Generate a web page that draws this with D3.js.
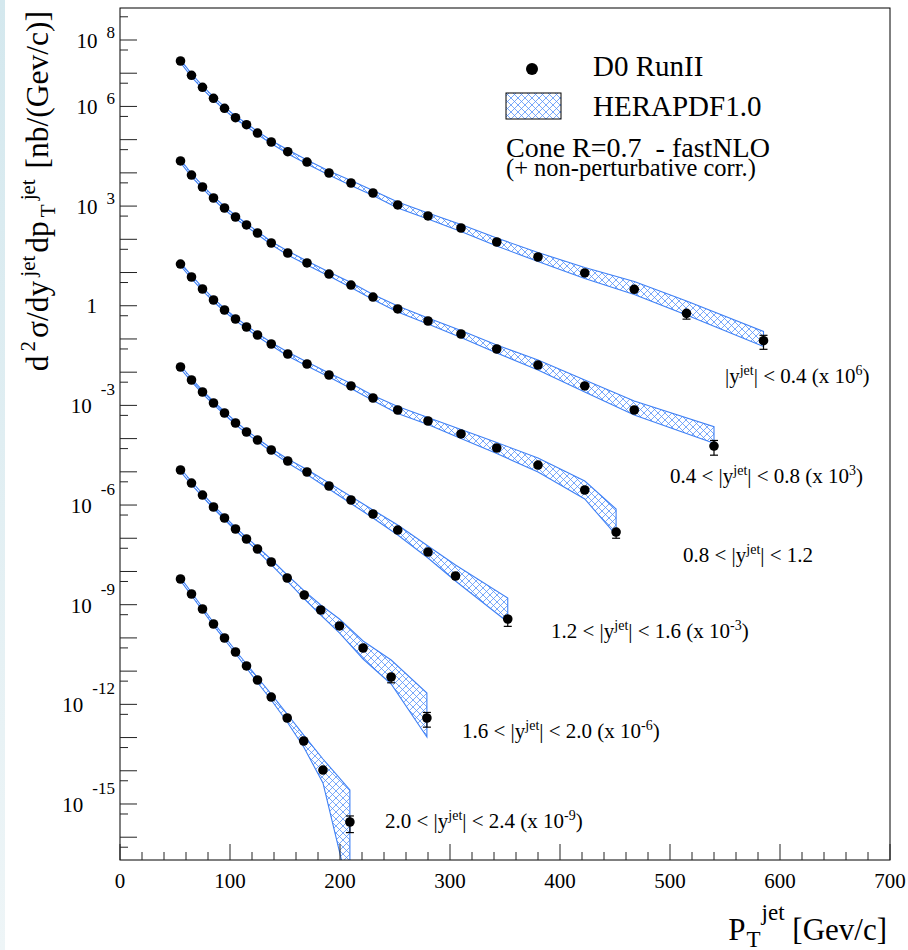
<!DOCTYPE html>
<html><head><meta charset="utf-8">
<script src="https://cdn.jsdelivr.net/npm/d3@7"></script>
<style>
body{margin:0;background:#fff}
svg{display:block}
text{font-family:"Liberation Serif","Times New Roman",Times,serif;fill:#000;white-space:pre}
</style>
</head><body>
<svg id="c" width="908" height="950"></svg>
<script>
// ---------------- DATA (values as plotted, scale factors already applied) ----------------
const ptS1 = [55,65,75,85,95,105,115,125,137.5,152.5,170,190,210,230,252.5,280,310,342.5,380,422.5,467.5,515,585];
const dataS1 = [2.33e7,8.65e6,3.77e6,1.76e6,8.79e5,4.58e5,2.82e5,1.58e5,8.5e4,4.34e4,2.12e4,9.9e3,4.95e3,2.48e3,1.08e3,504,219,83,29.3,9.7,3.13,0.59,0.0887];
const errS1 = [6,5,5,5,5,5,5,5,5,5,6,6,6,7,7,8,9,10,11,12,15,33,45];
const thLoS1 = [2.10e7,7.79e6,3.40e6,1.59e6,7.92e5,4.13e5,2.54e5,1.42e5,7.66e4,3.78e4,1.85e4,8.62e3,4.16e3,2.09e3,877,409,172,62.9,21.4,6.63,2.18,0.526,0.0593];
const thHiS1 = [2.59e7,9.60e6,4.18e6,1.95e6,9.76e5,5.08e5,3.13e5,1.75e5,9.44e4,4.99e4,2.44e4,1.14e4,5.89e3,2.95e3,1.33e3,620,279,109,40.0,14.2,5.37,1.39,0.168];

const ptS2 = [55,65,75,85,95,105,115,125,137.5,152.5,170,190,210,230,252.5,280,310,342.5,380,422.5,467.5,540];
const dataS2 = [2.28e4,8.6e3,3.76e3,1.75e3,875,469,270,155,77.4,38.7,19.4,9.0,4.2,1.83,0.80,0.347,0.141,0.0499,0.0164,0.00384,7.26e-4,5.98e-5];
const errS2 = [6,5,5,5,5,5,5,5,5,5,6,6,6,7,7,8,9,10,12,15,30,47];
const thLoS2 = [2.05e4,7.75e3,3.39e3,1.58e3,788,423,243,140,69.7,33.7,16.9,7.83,3.53,1.54,0.650,0.282,0.111,0.0378,0.0116,0.00253,5.13e-4,7.23e-5];
const thHiS2 = [2.53e4,9.55e3,4.17e3,1.94e3,971,521,300,172,85.9,44.5,22.3,10.3,4.99,2.18,0.985,0.427,0.180,0.0658,0.0232,0.00582,1.36e-3,2.28e-4];

const ptS3 = [55,65,75,85,95,105,115,125,137.5,152.5,170,190,210,230,252.5,280,310,342.5,380,422.5,451];
const dataS3 = [18.0,7.33,3.19,1.49,0.744,0.399,0.229,0.1315,0.0705,0.0352,0.0176,0.00822,0.00384,0.00167,7.26e-4,3.39e-4,1.38e-4,5.21e-5,1.60e-5,2.84e-6,1.54e-7];
const errS3 = [6,5,5,5,5,5,5,5,5,5,6,6,6,7,7,8,10,12,15,20,35];
const thLoS3 = [16.2,6.60,2.87,1.34,0.670,0.359,0.206,0.118,0.0635,0.0306,0.0153,0.00715,0.00323,0.00140,5.70e-4,2.66e-4,1.01e-4,3.56e-5,9.85e-6,1.52e-6,1.25e-7];
const thHiS3 = [20.0,8.14,3.54,1.65,0.826,0.443,0.254,0.146,0.0783,0.0404,0.0202,0.00944,0.00457,0.00199,9.25e-4,4.32e-4,1.89e-4,7.63e-5,2.60e-5,5.30e-6,7.58e-7];

const ptS4 = [55,65,75,85,95,105,115,125,137.5,152.5,170,190,210,230,252.5,280,305,352.5];
const dataS4 = [0.0143,0.00581,0.00253,0.00118,5.90e-4,2.95e-4,1.58e-4,9.08e-5,4.54e-5,2.12e-5,9.89e-6,3.74e-6,1.42e-6,5.37e-7,1.77e-7,3.85e-8,7.31e-9,3.71e-10];
const errS4 = [6,5,5,5,5,5,5,5,6,6,7,7,8,9,10,12,18,40];
const thLoS4 = [0.0129,0.00523,0.00228,0.00106,5.32e-4,2.66e-4,1.42e-4,8.18e-5,4.09e-5,1.85e-5,8.32e-6,3.04e-6,1.11e-6,4.07e-7,1.25e-7,2.54e-8,5.16e-9,3.01e-10];
const thHiS4 = [0.0159,0.00645,0.00281,0.00131,6.55e-4,3.27e-4,1.75e-4,1.01e-4,5.04e-5,2.44e-5,1.18e-5,4.60e-6,1.81e-6,7.08e-7,2.50e-7,5.84e-8,1.57e-8,1.59e-9];

const ptS5 = [55,65,75,85,95,105,115,125,137.5,152,167.5,182.5,199.5,221,246.5,279];
const dataS5 = [1.135e-5,4.60e-6,2.00e-6,8.73e-7,4.07e-7,1.90e-7,9.51e-8,4.75e-8,1.93e-8,6.37e-9,1.96e-9,6.92e-10,2.29e-10,4.97e-11,6.65e-12,3.88e-13];
const errS5 = [6,5,5,5,5,5,5,6,6,7,8,9,10,14,33,47];
const thLoS5 = [1.02e-5,4.14e-6,1.80e-6,7.86e-7,3.67e-7,1.71e-7,8.57e-8,4.13e-8,1.62e-8,5.17e-9,1.49e-9,4.89e-10,1.41e-10,2.32e-11,4.10e-12,1.04e-13];
const thHiS5 = [1.26e-5,5.11e-6,2.22e-6,9.69e-7,4.52e-7,2.11e-7,1.06e-7,5.46e-8,2.29e-8,7.84e-9,2.59e-9,9.78e-10,3.72e-10,8.08e-11,2.16e-11,2.19e-12];

const ptS6 = [55,65,75,85,95,105,115,125,137.5,152,167,184.5,209];
const dataS6 = [5.93e-9,2.10e-9,7.41e-10,2.62e-10,9.93e-11,3.77e-11,1.43e-11,5.41e-12,1.66e-12,3.88e-13,7.87e-14,1.05e-14,2.87e-16];
const errS6 = [6,5,5,5,5,6,6,7,8,9,12,18,52];
const thLoS6 = [5.34e-9,1.89e-9,6.68e-10,2.36e-10,8.95e-11,3.40e-11,1.24e-11,4.55e-12,1.35e-12,2.94e-13,5.20e-14,4.29e-15,1.82e-18];
const thHiS6 = [6.58e-9,2.33e-9,8.23e-10,2.91e-10,1.10e-10,4.18e-11,1.64e-11,6.43e-12,2.04e-12,5.12e-13,1.19e-13,2.26e-14,2.64e-15];

const seriesLabels = [
  "|y^{jet}| < 0.4 (x 10^{6})",
  "0.4 < |y^{jet}| < 0.8 (x 10^{3})",
  "0.8 < |y^{jet}| < 1.2",
  "1.2 < |y^{jet}| < 1.6 (x 10^{-3})",
  "1.6 < |y^{jet}| < 2.0 (x 10^{-6})",
  "2.0 < |y^{jet}| < 2.4 (x 10^{-9})"
];
const xTickLabels = [0,100,200,300,400,500,600,700];
const yLabelExponents = [8,6,3,0,-3,-6,-9,-12,-15];
const legendData = "D0 RunII";
const legendTheory = "HERAPDF1.0";
const legendNote1 = "Cone R=0.7  - fastNLO";
const legendNote2 = "(+ non-perturbative corr.)";
const xTitle = "P_{T}^{jet} [Gev/c]";
const yTitle = "d^{2}\u03C3/dy^{jet}dp_{T}^{jet} [nb/(Gev/c)]";

// ---------------- LAYOUT ----------------
const L = 120, R = 890, T = 8, B = 860;
const BLUE = "#3f80f5";
const svg = d3.select("#c");
const x = d3.scaleLinear().domain([0,700]).range([L,R]);
const y = d3.scaleLog().domain([Math.pow(10,-16.686), Math.pow(10,8.9634)]).range([B,T]);

const defs = svg.append("defs");
const grad = defs.append("linearGradient").attr("id","edge").attr("x1",0).attr("y1",0).attr("x2",0).attr("y2",1);
grad.append("stop").attr("offset","0%").attr("stop-color","#d4e8ee");
grad.append("stop").attr("offset","100%").attr("stop-color","#eef5f7");
svg.append("rect").attr("x",0).attr("y",0).attr("width",5).attr("height",950).attr("fill","url(#edge)");

const pat = defs.append("pattern").attr("id","hatch").attr("patternUnits","userSpaceOnUse")
  .attr("width",7).attr("height",7);
pat.append("path").attr("d","M0,0L7,7M7,0L0,7").attr("stroke","#4d8cf8").attr("stroke-width",0.75).attr("fill","none");
defs.append("clipPath").attr("id","plotclip").append("rect")
  .attr("x",L).attr("y",T).attr("width",R-L).attr("height",B-T);

// rich text helper: supports ^{..} and _{..}
function rich(textSel, str, size, smallSize, supShift, subShift, gapIn, gapOut) {
  const parts = str.split(/(\^\{[^}]*\}|_\{[^}]*\})/).filter(s => s.length);
  let cur = 0;
  parts.forEach(p => {
    let target = 0, txt = p, fs = size, dx = 0;
    if (p.startsWith("^{")) { target = -supShift; txt = p.slice(2,-1); fs = smallSize; dx = gapIn||0; }
    else if (p.startsWith("_{")) { target = subShift; txt = p.slice(2,-1); fs = smallSize; dx = gapIn||0; }
    else if (cur !== 0) { dx = gapOut||0; }
    textSel.append("tspan").attr("dy", target - cur).attr("dx", dx).attr("font-size", fs).text(txt);
    cur = target;
  });
}

// ---------------- BANDS + POINTS ----------------
const allSeries = [
  {pt:ptS1, v:dataS1, e:errS1, lo:thLoS1, hi:thHiS1},
  {pt:ptS2, v:dataS2, e:errS2, lo:thLoS2, hi:thHiS2},
  {pt:ptS3, v:dataS3, e:errS3, lo:thLoS3, hi:thHiS3},
  {pt:ptS4, v:dataS4, e:errS4, lo:thLoS4, hi:thHiS4},
  {pt:ptS5, v:dataS5, e:errS5, lo:thLoS5, hi:thHiS5},
  {pt:ptS6, v:dataS6, e:errS6, lo:thLoS6, hi:thHiS6}
];
const gPlot = svg.append("g").attr("clip-path","url(#plotclip)");
const area = d3.area().x(d => x(d.pt)).y0(d => y(d.lo)).y1(d => y(d.hi));
allSeries.forEach(s => {
  const rows = s.pt.map((p,i) => ({pt:p, lo:s.lo[i], hi:s.hi[i]}));
  gPlot.append("path").datum(rows).attr("d", area)
    .attr("fill","url(#hatch)").attr("stroke",BLUE).attr("stroke-width",1.1);
});
const MR = 4.8;
allSeries.forEach(s => {
  s.pt.forEach((p,i) => {
    const v = s.v[i], e = s.e[i]/100;
    const cx = x(p), cy = y(v), yt = y(v*(1+e)), yb = y(v*(1-e));
    const g = gPlot.append("g").attr("stroke","#000").attr("stroke-width",1.2);
    if (cy - yt > MR + 0.5) {
      g.append("line").attr("x1",cx).attr("x2",cx).attr("y1",yt).attr("y2",cy);
      g.append("line").attr("x1",cx-4).attr("x2",cx+4).attr("y1",yt).attr("y2",yt);
    }
    if (yb - cy > MR + 0.5) {
      g.append("line").attr("x1",cx).attr("x2",cx).attr("y1",cy).attr("y2",yb);
      g.append("line").attr("x1",cx-4).attr("x2",cx+4).attr("y1",yb).attr("y2",yb);
    }
    gPlot.append("circle").attr("cx",cx).attr("cy",cy).attr("r",MR).attr("fill","#000");
  });
});

// ---------------- AXES ----------------
const axisG = svg.append("g").attr("stroke","#222").attr("stroke-width",1);
axisG.append("rect").attr("x",L).attr("y",T).attr("width",R-L).attr("height",B-T).attr("fill","none").attr("stroke","#000");
d3.range(0,701,20).forEach(v => {
  const big = v % 100 === 0;
  axisG.append("line").attr("x1",x(v)).attr("x2",x(v)).attr("y1",B).attr("y2",B-(big?16:8));
});
xTickLabels.forEach(v => {
  svg.append("text").attr("x",x(v)).attr("y",888).attr("text-anchor","middle").attr("font-size",21).text(v);
});
for (let n=-17; n<=9; n++) {
  [Math.pow(10,n), 5*Math.pow(10,n)].forEach((v,k) => {
    const yy = y(v);
    if (yy < T+0.5 || yy > B-0.5) return;
    axisG.append("line").attr("x1",L).attr("x2",L+(k===0?17:8)).attr("y1",yy).attr("y2",yy);
  });
}
yLabelExponents.forEach(n => {
  const yy = y(Math.pow(10,n));
  if (n === 0) {
    svg.append("text").attr("x",97).attr("y",yy+7.5).attr("text-anchor","end").attr("font-size",21).text("1");
    return;
  }
  const t = svg.append("text").attr("x",115).attr("y",yy+8).attr("text-anchor","end").attr("font-size",21);
  t.append("tspan").text("10");
  t.append("tspan").attr("dx",9).attr("dy", n>0 ? -10 : -18).attr("font-size",17).text(String(n));
});

// ---------------- TITLES ----------------
const xt = svg.append("text").attr("x",887).attr("y",940).attr("text-anchor","end").attr("font-size",31);
rich(xt, xTitle, 31, 23, 20, 7, 1, 0);
const yt = svg.append("text").attr("transform","translate(48,11) rotate(-90)").attr("text-anchor","end").attr("font-size",31.5);
rich(yt, yTitle, 31.5, 21, 13, 7, 4, 3);

// ---------------- SERIES LABELS ----------------
const labelPos = [[725,383],[670,483],[683,562],[551,638],[462,738],[385,828]];
seriesLabels.forEach((s,i) => {
  const t = svg.append("text").attr("x",labelPos[i][0]).attr("y",labelPos[i][1]).attr("font-size",21);
  rich(t, s, 21, 14, 8, 5, 0, 0);
});

// ---------------- LEGEND ----------------
svg.append("circle").attr("cx",532).attr("cy",69).attr("r",6).attr("fill","#000");
svg.append("text").attr("x",593).attr("y",76).attr("font-size",29).text(legendData);
svg.append("rect").attr("x",506).attr("y",93).attr("width",55).attr("height",26)
  .attr("fill","url(#hatch)").attr("stroke","#000").attr("stroke-width",1);
svg.append("text").attr("x",593).attr("y",116).attr("font-size",29).text(legendTheory);
svg.append("text").attr("x",506).attr("y",157).attr("font-size",28).text(legendNote1);
svg.append("text").attr("x",506).attr("y",176).attr("font-size",24.5).text(legendNote2);
</script>
</body></html>
